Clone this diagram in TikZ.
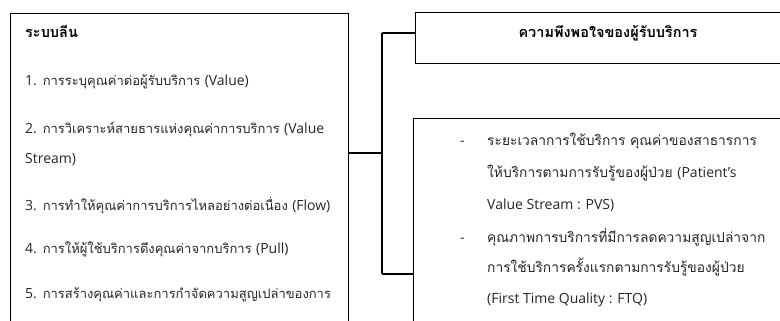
\documentclass[tikz,border=0pt]{standalone}
\usepackage{fontspec}
\setmainfont[Script=Thai]{Loma}
\newfontfamily\latn{Open Sans}
\newcommand{\lt}[1]{{\latn\fontsize{14}{16}\selectfont #1}}
\begin{document}
\begin{tikzpicture}[x=1pt,y=-1pt,
  box/.style={draw=black,line width=1.4pt,rectangle,inner sep=0pt,anchor=north west},
  conn/.style={draw=black,line width=1.4pt},
  txt/.style={anchor=base west,inner sep=0pt,font=\fontsize{13.0}{15}\selectfont,text=black!85},
  rtxt/.style={txt,font=\fontsize{13.8}{15}\selectfont},
  btxt/.style={anchor=base west,inner sep=0pt,font=\fontsize{14.5}{16}\selectfont\bfseries,text=black}]
\useasboundingbox (0,0) rectangle (780,321);
\clip (0,0) rectangle (780,321);
% boxes
\node[box,minimum width=338pt,minimum height=340pt] (lean) at (10,13) {};
\node[box,minimum width=390pt,minimum height=51pt] (sat) at (415,12) {};
\node[box,minimum width=390pt,minimum height=230pt] (qual) at (413,118) {};
% connectors
\coordinate (j) at (382,153);
\coordinate (jt) at (382,33);
\coordinate (jb) at (382,274);
\draw[conn] (lean.east |- j) -- (j);
\draw[conn] (jt) -- (jb);
\draw[conn] (jt) -- (sat.west |- jt);
\draw[conn] (jb) -- (qual.west |- jb);
% left texts
\node[btxt] (t0) at (25,38) {ระบบลีน};
\node[txt] (t1) at (25,86) {\lt{1.} การระบุคุณค่าต่อผู้รับบริการ \lt{(Value)}};
\node[txt] (t2) at (25,133) {\lt{2.} การวิเคราะห์สายธารแห่งคุณค่าการบริการ \lt{(Value}};
\node[txt] (t2b) at (25,163) {\lt{Stream)}};
\node[txt] (t3) at (25,210) {\lt{3.} การทำให้คุณค่าการบริการไหลอย่างต่อเนื่อง \lt{(Flow)}};
\node[txt] (t4) at (25,253) {\lt{4.} การให้ผู้ใช้บริการดึงคุณค่าจากบริการ \lt{(Pull)}};
\node[txt] (t5) at (25,298) {\lt{5.} การสร้างคุณค่าและการกำจัดความสูญเปล่าของการ};
% right texts
\node[btxt,anchor=base] (s0) at (608,38) {ความพึงพอใจของผู้รับบริการ};
\node[rtxt] (d1) at (460,146) {\lt{-}};
\node[rtxt] (r1) at (487,146) {ระยะเวลาการใช้บริการ คุณค่าของสาธารการ};
\node[rtxt] (r2) at (487,177) {ให้บริการตามการรับรู้ของผู้ป่วย \lt{(Patient’s}};
\node[rtxt] (r3) at (487,209) {\lt{Value Stream : PVS)}};
\node[rtxt] (d2) at (460,242) {\lt{-}};
\node[rtxt] (r4) at (487,242) {คุณภาพการบริการที่มีการลดความสูญเปล่าจาก};
\node[rtxt] (r5) at (487,272) {การใช้บริการครั้งแรกตามการรับรู้ของผู้ป่วย};
\node[rtxt] (r6) at (487,303) {\lt{(First Time Quality : FTQ)}};
\end{tikzpicture}
\end{document}
